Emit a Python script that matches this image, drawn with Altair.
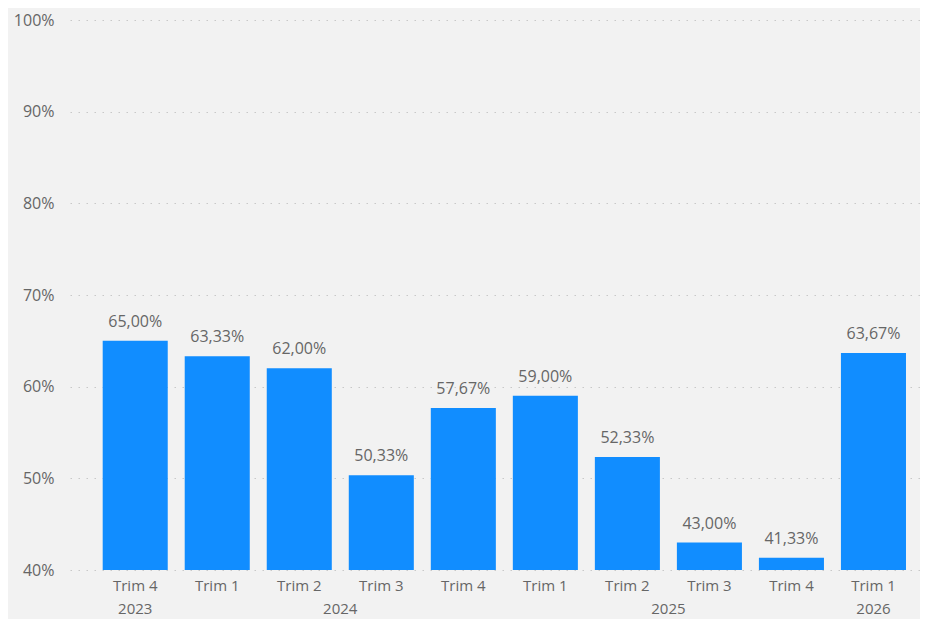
import altair as alt
import pandas as pd

years = ["2023", "2024", "2024", "2024", "2024", "2025", "2025", "2025", "2025", "2026"]
quarters = ["Trim 4", "Trim 1", "Trim 2", "Trim 3", "Trim 4", "Trim 1", "Trim 2", "Trim 3", "Trim 4", "Trim 1"]
values = [0.6500, 0.6333, 0.6200, 0.5033, 0.5767, 0.5900, 0.5233, 0.4300, 0.4133, 0.6367]

# year labels: anchor category and whether it sits between two bars
year_labels = ["2023", "2024", "2025", "2026"]
year_anchor = ["2023|Trim 4", "2024|Trim 2", "2025|Trim 2", "2026|Trim 1"]
year_between = [False, True, True, False]

keys = [f"{y}|{q}" for y, q in zip(years, quarters)]
df = pd.DataFrame({"key": keys, "year": years, "quarter": quarters, "value": values})
ydf = pd.DataFrame({"key": year_anchor, "label": year_labels, "between": year_between})

W, H = 850, 550
BLUE = "#118DFF"
GRAY = "#666666"
FONT = "Open Sans"

xscale = alt.Scale(domain=keys, paddingInner=0.207, paddingOuter=0.2847, align=0.70, round=False)
x = alt.X("key:N", scale=xscale, sort=keys,
          axis=alt.Axis(title=None, labelExpr="split(datum.value, '|')[1]", labelAngle=0,
                        ticks=False, domain=False, labelPadding=8, labelFontSize=15,
                        labelColor=GRAY, labelFont=FONT, grid=False, zindex=1))
yscale = alt.Scale(domain=[0.4, 1.0], nice=False, zero=False)
y = alt.Y("value:Q", scale=yscale,
          axis=alt.Axis(title=None, format=".0%", values=[0.4, 0.5, 0.6, 0.7, 0.8, 0.9, 1.0],
                        ticks=False, domain=False, labelPadding=16, labelFontSize=16,
                        labelColor=GRAY, labelFont=FONT, grid=True, gridColor="#C8C8C8",
                        gridDash=[1.5, 6.5], gridWidth=1.2))

bars = alt.Chart(df).mark_bar(color=BLUE).encode(x=x, y=y, y2=alt.datum(0.4))

labels = alt.Chart(df).transform_calculate(
    lbl="replace(format(datum.value * 100, '.2f'), '.', ',') + '%'"
).mark_text(baseline="alphabetic", dy=-14, fontSize=16, color=GRAY, font=FONT).encode(
    x=alt.X("key:N", scale=xscale, sort=keys),
    y=alt.Y("value:Q", scale=yscale),
    text="lbl:N",
)

ylab_center = alt.Chart(ydf[~ydf["between"]]).mark_text(
    baseline="middle", fontSize=15, color=GRAY, font=FONT
).encode(x=alt.X("key:N", scale=xscale, sort=keys), y=alt.value(H + 39), text="label:N")

ylab_between = alt.Chart(ydf[ydf["between"]]).mark_text(
    baseline="middle", fontSize=15, color=GRAY, font=FONT, dx=41
).encode(x=alt.X("key:N", scale=xscale, sort=keys), y=alt.value(H + 39), text="label:N")

chart = alt.layer(bars, labels, ylab_center, ylab_between).properties(
    width=W, height=H,
    autosize=alt.AutoSizeParams(type="none"),
    padding={"left": 62, "top": 12, "right": 0, "bottom": 49},
    background="#F2F2F2",
).configure_view(stroke=None)

chart.save("out.html", embed_options={"renderer": "svg", "actions": False})
